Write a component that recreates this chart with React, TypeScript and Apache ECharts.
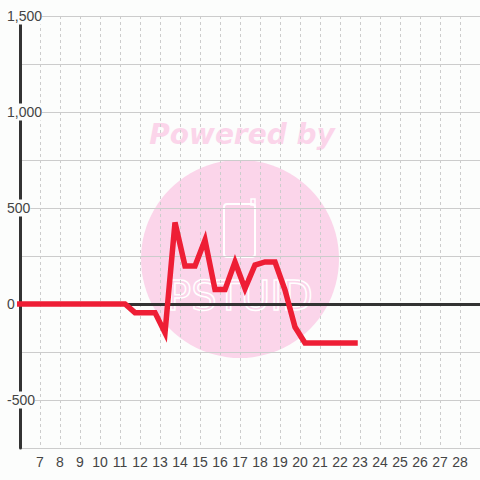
import React, { useEffect, useRef } from "react";
import * as echarts from "echarts";

const xValues = [5.75, 6.25, 6.75, 7.25, 7.75, 8.25, 8.75, 9.25, 9.75, 10.25, 10.75, 11.25, 11.75, 12.25, 12.75, 13.25, 13.75, 14.25, 14.75, 15.25, 15.75, 16.25, 16.75, 17.25, 17.75, 18.25, 18.75, 19.25, 19.75, 20.25, 20.75, 21.25, 21.75, 22.25, 22.75];
const yValues = [0, 0, 0, 0, 0, 0, 0, 0, 0, 0, 0, 0, -45, -45, -45, -150, 425, 198, 198, 333, 75, 75, 219, 80, 203, 219, 219, 73, -120, -203, -203, -203, -203, -203, -203];
const xTickLabels = [7, 8, 9, 10, 11, 12, 13, 14, 15, 16, 17, 18, 19, 20, 21, 22, 23, 24, 25, 26, 27, 28];
const yTickLabels = [-500, 0, 500, 1000, 1500];

const BG = "#fcfdfc";
const PINK = "#fbd5ea";

export default function App() {
  const ref = useRef<HTMLDivElement>(null);
  useEffect(() => {
    if (!ref.current) return;
    const chart = echarts.init(ref.current, null, { renderer: "svg" });
    const data = xValues.map((x, i) => [x, yValues[i]]);
    chart.setOption({
      animation: false,
      backgroundColor: BG,
      grid: { left: 20, right: 0, top: 16, bottom: 32, containLabel: false, outerBoundsMode: "none" },
      graphic: [
        { type: "circle", z: -100, silent: true, shape: { cx: 240, cy: 259, r: 99 }, style: { fill: PINK } },
        {
          type: "text", z: -100, silent: true, x: 242, y: 134,
          style: { text: "Powered by", fill: PINK, font: 'italic bold 28px "DejaVu Sans"', align: "center", verticalAlign: "middle" },
        },
        { type: "rect", z: -99, silent: true, shape: { x: 224, y: 204, width: 31, height: 53, r: 3 }, style: { fill: "none", stroke: "#ffffff", lineWidth: 2 } },
        { type: "rect", z: -99, silent: true, shape: { x: 251, y: 199, width: 4, height: 6 }, style: { fill: "none", stroke: "#ffffff", lineWidth: 1.5 } },
        {
          type: "text", z: -99, silent: true, x: 240, y: 296,
          style: { text: "PSTUID", fill: "none", stroke: "#ffffff", lineWidth: 1.5, font: '40px "DejaVu Sans"', align: "center", verticalAlign: "middle" },
        },
      ],
      xAxis: [
        {
          type: "value", min: 6, max: 29, interval: 1, position: "bottom",
          axisLine: { show: false, onZero: false },
          axisTick: { show: false },
          axisLabel: { customValues: xTickLabels, margin: 7, fontSize: 14, color: "#444", fontFamily: "Liberation Sans, Arial, sans-serif" },
          splitLine: { show: true, lineStyle: { color: "#cccccc", width: 1, type: [3, 3] } },
        },
        {
          type: "value", min: 6, max: 29, interval: 1, position: "bottom",
          axisLine: { show: true, onZero: true, lineStyle: { color: "#333333", width: 3 } },
          axisTick: { show: false },
          axisLabel: { show: false },
          splitLine: { show: false },
        },
      ],
      yAxis: {
        type: "value", min: -750, max: 1500, interval: 250,
        axisLine: { show: true, onZero: false, lineStyle: { color: "#333333", width: 3 } },
        axisTick: { show: false },
        axisLabel: {
          customValues: yTickLabels,
          formatter: (v: number) => v.toLocaleString("en-US"),
          align: "left", margin: 13, fontSize: 14, color: "#444",
          fontFamily: "Liberation Sans, Arial, sans-serif",
          backgroundColor: BG, lineHeight: 15, padding: [1, 0],
        },
        splitLine: { show: true, lineStyle: { color: "#cccccc", width: 1 } },
      },
      series: [
        {
          type: "line", xAxisIndex: 0, yAxisIndex: 0, data, showSymbol: false, symbol: "none",
          lineStyle: { color: "#ee1e35", width: 5.5, cap: "square", join: "miter" }, z: 5, clip: true,
        },
      ],
    });
    return () => chart.dispose();
  }, []);
  return <div ref={ref} style={{ width: 480, height: 480, position: "absolute", left: 0, top: 0 }} />;
}
